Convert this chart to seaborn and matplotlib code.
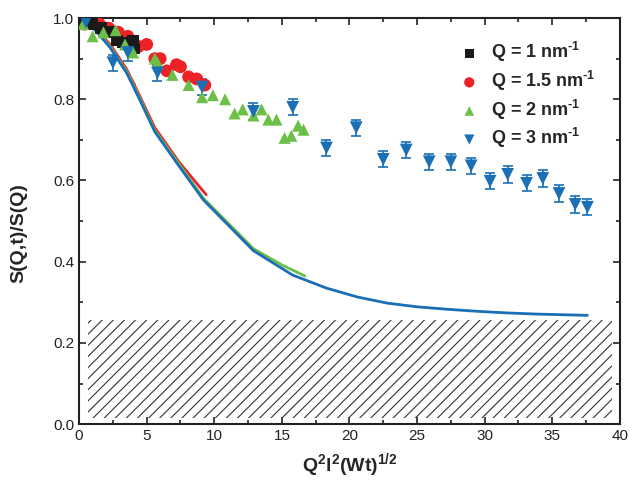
import numpy as np
import pandas as pd
import matplotlib
matplotlib.use("Agg")
import matplotlib.pyplot as plt
import seaborn as sns

sns.set_style("ticks")
plt.rcParams['font.family'] = ['Liberation Sans', 'DejaVu Sans']
plt.rcParams['mathtext.fontset'] = 'custom'
plt.rcParams['mathtext.rm'] = 'Liberation Sans:bold'
plt.rcParams['mathtext.bf'] = 'Liberation Sans:bold'
plt.rcParams['mathtext.it'] = 'Liberation Sans:bold'
plt.rcParams['hatch.linewidth'] = 0.8

# ---- data ----
q1_x = [0.3, 1.0, 1.6, 2.2, 2.8, 3.2, 3.7, 4.0, 4.1]
q1_y = [0.995, 0.985, 0.975, 0.965, 0.945, 0.94, 0.935, 0.945, 0.925]

q15_x = [0.4, 0.9, 1.5, 2.2, 2.9, 3.6, 4.4, 5.0, 5.6, 6.0, 6.5, 7.2, 7.5, 8.1, 8.7, 9.3]
q15_y = [0.985, 0.99, 0.985, 0.975, 0.965, 0.955, 0.93, 0.935, 0.90, 0.90, 0.87, 0.885, 0.88, 0.855, 0.85, 0.835]

q2_x = [0.3, 1.0, 1.8, 2.7, 3.4, 4.0, 5.6, 5.8, 6.9, 8.1, 9.1, 9.9, 10.8, 11.5, 12.1, 12.9,
        13.5, 14.0, 14.6, 15.2, 15.7, 16.2, 16.6]
q2_y = [0.985, 0.955, 0.965, 0.97, 0.935, 0.915, 0.90, 0.89, 0.86, 0.835, 0.805, 0.81, 0.80,
        0.765, 0.775, 0.76, 0.775, 0.75, 0.75, 0.705, 0.71, 0.735, 0.725]

q3_x = [0.5, 2.5, 3.6, 5.8, 9.1, 12.9, 15.8, 18.3, 20.5, 22.5, 24.2, 25.9, 27.5, 29.0, 30.4,
        31.7, 33.1, 34.3, 35.5, 36.7, 37.6]
q3_y = [0.99, 0.89, 0.915, 0.865, 0.83, 0.77, 0.78, 0.68, 0.73, 0.652, 0.675, 0.646, 0.646,
        0.636, 0.598, 0.615, 0.593, 0.605, 0.568, 0.541, 0.534]
q3_err = [0.01, 0.02, 0.02, 0.02, 0.02, 0.02, 0.02, 0.02, 0.02, 0.02, 0.02, 0.02, 0.02,
          0.02, 0.02, 0.02, 0.02, 0.02, 0.02, 0.02, 0.02]

# model curves
fit1_x = [0.0, 1.2, 2.3, 3.5, 4.1]
fit1_y = [1.0, 0.972, 0.93, 0.868, 0.835]

fit15_x = [0.0, 1.2, 2.3, 3.5, 4.5, 5.6, 7.4, 9.4]
fit15_y = [1.0, 0.975, 0.935, 0.875, 0.807, 0.73, 0.645, 0.565]

fit2_x = [0.0, 1.2, 2.3, 3.5, 4.5, 5.6, 7.4, 9.2, 12.9, 15.0, 16.7]
fit2_y = [1.0, 0.972, 0.93, 0.87, 0.802, 0.724, 0.64, 0.556, 0.432, 0.392, 0.365]

fit3_x = [0.0, 1.2, 2.3, 3.5, 4.5, 5.6, 7.4, 9.2, 12.9, 15.8, 18.3, 20.6, 22.8, 25.0, 27.2,
          29.4, 31.6, 33.9, 37.6]
fit3_y = [1.0, 0.97, 0.927, 0.866, 0.798, 0.72, 0.635, 0.552, 0.427, 0.367, 0.335, 0.313,
          0.298, 0.289, 0.283, 0.278, 0.274, 0.271, 0.268]

# hatched region (noise floor)
hatch_x = [0.67, 39.4]
hatch_lo = 0.015
hatch_hi = 0.257

labels = [r"Q = 1 nm$^{\text{-1}}$", r"Q = 1.5 nm$^{\text{-1}}$",
          r"Q = 2 nm$^{\text{-1}}$", r"Q = 3 nm$^{\text{-1}}$"]
colors = ["#1a1a1a", "#ec2227", "#6cbf47", "#1b6fb6"]

# ---- figure ----
fig = plt.figure(figsize=(6.43, 4.87), dpi=100)
ax = fig.add_axes([0.123, 0.129, 0.841, 0.834])

ax.fill_between(hatch_x, hatch_lo, hatch_hi, facecolor="none", edgecolor="#333333",
                hatch="///", linewidth=0)

lw = 2.0
sns.lineplot(x=fit1_x, y=fit1_y, color=colors[0], lw=lw, sort=False, ax=ax, zorder=3)
sns.lineplot(x=fit15_x, y=fit15_y, color=colors[1], lw=lw, sort=False, ax=ax, zorder=3)
sns.lineplot(x=fit2_x, y=fit2_y, color=colors[2], lw=lw, sort=False, ax=ax, zorder=3)
sns.lineplot(x=fit3_x, y=fit3_y, color=colors[3], lw=lw, sort=False, ax=ax, zorder=3)

ax.errorbar(q3_x, q3_y, yerr=q3_err, fmt="none", ecolor=colors[3], elinewidth=1.2,
            capsize=3.5, capthick=1.2, zorder=4)

sns.scatterplot(x=q1_x, y=q1_y, marker="s", s=70, color=colors[0], edgecolor="none",
                ax=ax, label=labels[0], zorder=5.5)
sns.scatterplot(x=q15_x, y=q15_y, marker="o", s=85, color=colors[1], edgecolor="none",
                ax=ax, label=labels[1], zorder=5)
sns.scatterplot(x=q2_x, y=q2_y, marker="^", s=75, color=colors[2], edgecolor="none",
                ax=ax, label=labels[2], zorder=5.7)
sns.scatterplot(x=q3_x, y=q3_y, marker="v", s=85, color=colors[3], edgecolor="none",
                ax=ax, label=labels[3], zorder=6)

ax.set_xlim(0, 40)
ax.set_ylim(0, 1.0)
ax.set_xticks(np.arange(0, 41, 5))
ax.set_yticks(np.arange(0, 1.01, 0.2))
ax.set_xticks(np.arange(2.5, 40, 5), minor=True)
ax.set_yticks(np.arange(0.1, 1.0, 0.2), minor=True)
ax.yaxis.set_major_formatter(matplotlib.ticker.FormatStrFormatter("%.1f"))
ax.tick_params(which="both", direction="in", top=True, right=True, labelsize=11,
               width=1.2, colors="#222222")
ax.tick_params(which="major", length=5)
ax.tick_params(which="minor", length=3)
for s in ax.spines.values():
    s.set_linewidth(1.5)
    s.set_color("#222222")

ax.set_xlabel(r"Q$^2$l$^2$(Wt)$^{1/2}$", fontsize=14, fontweight="bold", labelpad=6)
ax.set_ylabel("S(Q,t)/S(Q)", fontsize=14, fontweight="bold")
ax.yaxis.set_label_coords(-0.095, 0.47)

leg = ax.legend(loc="upper right", bbox_to_anchor=(0.985, 0.985), frameon=False,
                prop={"weight": "bold", "size": 13}, handletextpad=0.6,
                labelspacing=0.25, markerscale=0.8, handlelength=1.2)

fig.savefig("out.png", dpi=100)
